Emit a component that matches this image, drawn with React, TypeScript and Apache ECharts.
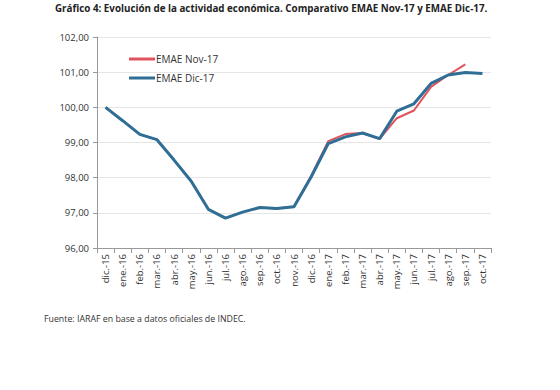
import React, { useEffect, useRef } from "react";
import * as echarts from "echarts";

const categories = [
  "dic.-15", "ene.-16", "feb.-16", "mar.-16", "abr.-16", "may.-16", "jun.-16", "jul.-16",
  "ago.-16", "sep.-16", "oct.-16", "nov.-16", "dic.-16", "ene.-17", "feb.-17", "mar.-17",
  "abr.-17", "may.-17", "jun.-17", "jul.-17", "ago.-17", "sep.-17", "oct.-17",
];

const emaeNov17: (number | null)[] = [
  100.0, 99.62, 99.23, 99.08, 98.5, 97.9, 97.1, 96.85, 97.02, 97.15, 97.12, 97.18,
  98.05, 99.04, 99.24, 99.27, 99.1, 99.69, 99.91, 100.58, 100.92, 101.22, null,
];

const emaeDic17: number[] = [
  100.0, 99.62, 99.23, 99.08, 98.5, 97.9, 97.1, 96.85, 97.02, 97.15, 97.12, 97.17,
  98.02, 98.97, 99.16, 99.27, 99.11, 99.89, 100.1, 100.68, 100.92, 100.99, 100.96,
];

const yTicks = { min: 96, max: 102, interval: 1 };

const titleText =
  "Gráfico 4: Evolución de la actividad económica. Comparativo EMAE Nov-17 y EMAE Dic-17.";
const sourceText = "Fuente: IARAF en base a datos oficiales de INDEC.";

export default function App() {
  const ref = useRef<HTMLDivElement>(null);
  useEffect(() => {
    if (!ref.current) return;
    const chart = echarts.init(ref.current, undefined, { renderer: "svg" });
    const font = "'Open Sans', 'Liberation Sans', sans-serif";
    chart.setOption({
      animation: false,
      backgroundColor: "#ffffff",
      title: {
        text: titleText,
        left: 50,
        top: -2,
        textStyle: { fontFamily: font, fontSize: 9.8, fontWeight: "bold", color: "#222" },
      },
      legend: {
        orient: "vertical",
        left: 124,
        top: 49,
        icon: "rect",
        itemWidth: 26,
        itemHeight: 3,
        itemGap: 9,
        textStyle: { fontFamily: font, fontSize: 10, color: "#333", padding: [0, 0, 0, -4] },
        data: ["EMAE Nov-17", "EMAE Dic-17"],
      },
      graphic: [
        {
          type: "text",
          left: 44,
          top: 314,
          style: { text: sourceText, fontFamily: font, fontSize: 8.8, fill: "#333" },
        },
      ],
      grid: { left: 97, right: 69, top: 37, bottom: 142, containLabel: false },
      xAxis: {
        type: "category",
        data: categories,
        boundaryGap: true,
        axisLine: { lineStyle: { color: "#999" } },
        axisTick: { show: true, inside: false, length: 5, lineStyle: { color: "#999" } },
        axisLabel: {
          rotate: 90,
          interval: 0,
          margin: 6,
          fontFamily: font,
          fontSize: 9.5,
          color: "#333",
        },
      },
      yAxis: {
        type: "value",
        min: yTicks.min,
        max: yTicks.max,
        interval: yTicks.interval,
        axisLine: { show: true, lineStyle: { color: "#999" } },
        axisTick: { show: true, length: 4, lineStyle: { color: "#999" } },
        splitLine: { lineStyle: { color: "#e6e6e6" } },
        axisLabel: {
          margin: 8,
          fontFamily: font,
          fontSize: 9.5,
          color: "#333",
          formatter: (v: number) => v.toFixed(2).replace(".", ","),
        },
      },
      series: [
        {
          name: "EMAE Nov-17",
          type: "line",
          data: emaeNov17,
          symbol: "none",
          lineStyle: { color: "#e0525c", width: 2 },
          itemStyle: { color: "#e0525c" },
          z: 2,
        },
        {
          name: "EMAE Dic-17",
          type: "line",
          data: emaeDic17,
          symbol: "none",
          lineStyle: { color: "#2f6f96", width: 3 },
          itemStyle: { color: "#2f6f96" },
          z: 3,
        },
      ],
    });
    return () => chart.dispose();
  }, []);
  return (
    <div
      ref={ref}
      style={{ position: "fixed", left: 0, top: 0, width: 560, height: 390 }}
    />
  );
}
